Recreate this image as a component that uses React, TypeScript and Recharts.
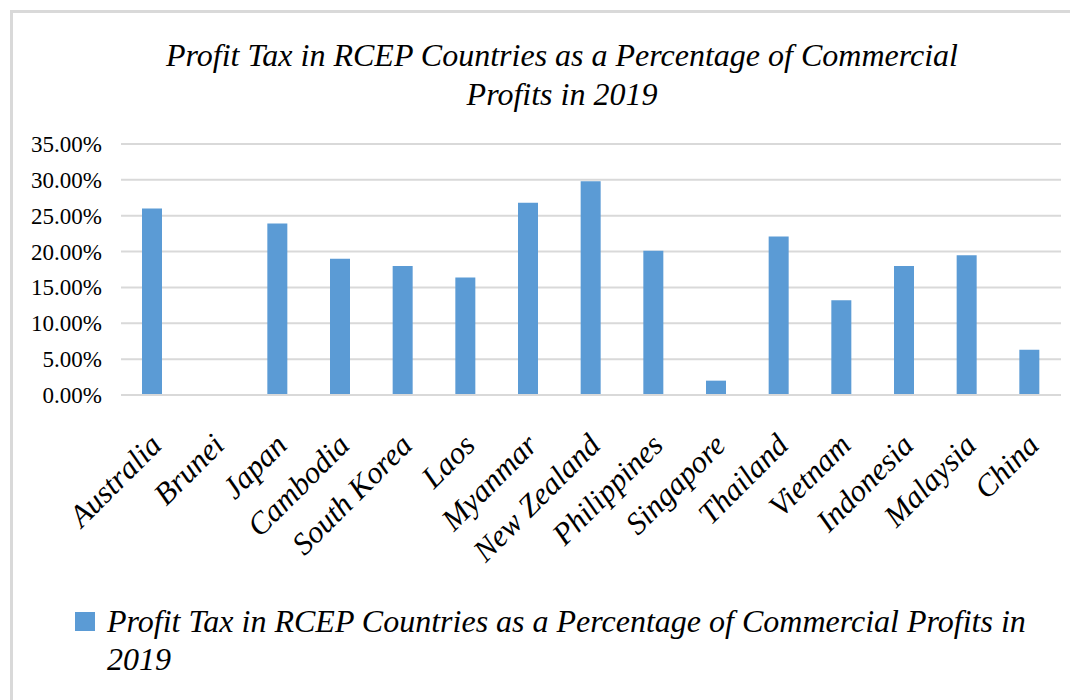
import React from "react";
import { BarChart, Bar, XAxis, YAxis, CartesianGrid } from "recharts";

const countries = [
  "Australia",
  "Brunei",
  "Japan",
  "Cambodia",
  "South Korea",
  "Laos",
  "Myanmar",
  "New Zealand",
  "Philippines",
  "Singapore",
  "Thailand",
  "Vietnam",
  "Indonesia",
  "Malaysia",
  "China",
];

// profit tax as % of commercial profits
const profitTax = [26.0, 0, 23.9, 19.0, 18.0, 16.4, 26.8, 29.8, 20.1, 2.0, 22.1, 13.2, 18.0, 19.5, 6.3];

const yTicks = [0, 5, 10, 15, 20, 25, 30, 35];

const seriesName = "Profit Tax in RCEP Countries as a Percentage of Commercial Profits in 2019";

const data = countries.map((name, i) => ({ name, value: profitTax[i] }));

const FONT = "Liberation Serif";
const BAR = "#5B9BD5";
const GRID = "#d9d9d9";

function CountryTick(props: any) {
  const { x, y, payload } = props;
  return (
    <g transform={`translate(${x + 11},${y + 52})`}>
      <text
        transform="rotate(-45)"
        textAnchor="end"
        style={{ fontFamily: FONT, fontStyle: "italic", fontSize: 31 }}
        fill="#000"
      >
        {payload.value}
      </text>
    </g>
  );
}

function PercentTick(props: any) {
  const { x, y, payload } = props;
  return (
    <text x={x - 19} y={y} dy={8} textAnchor="end" style={{ fontFamily: FONT, fontSize: 23 }} fill="#000">
      {Number(payload.value).toFixed(2) + "%"}
    </text>
  );
}

export default function App() {
  return (
    <div
      style={{
        marginLeft: 2,
        marginTop: 2,
        borderTop: `3px solid ${GRID}`,
        borderLeft: `3px solid ${GRID}`,
        width: 1065,
        height: 690,
        position: "relative",
        background: "#fff",
        fontFamily: FONT,
      }}
    >
      <div
        style={{
          position: "absolute",
          left: 49,
          top: 23,
          width: 1000,
          textAlign: "center",
          fontStyle: "italic",
          fontSize: 32,
          lineHeight: "39px",
          color: "#000",
        }}
      >
        Profit Tax in RCEP Countries as a Percentage of Commercial
        <br />
        Profits in 2019
      </div>

      <BarChart
        width={1065}
        height={562}
        data={data}
        margin={{ top: 131, right: 17, left: 0, bottom: 0 }}
      >
        <CartesianGrid vertical={false} stroke={GRID} strokeWidth={2} />
        <XAxis
          dataKey="name"
          interval={0}
          height={180}
          tickSize={0}
          tickMargin={0}
          tickLine={false}
          axisLine={{ stroke: GRID, strokeWidth: 2 }}
          tick={<CountryTick />}
        />
        <YAxis
          width={108}
          domain={[0, 35]}
          ticks={yTicks}
          tickSize={0}
          tickMargin={0}
          tickLine={false}
          axisLine={false}
          tick={<PercentTick />}
        />
        <Bar dataKey="value" name={seriesName} fill={BAR} barSize={20} isAnimationActive={false} />
      </BarChart>

      <div
        style={{
          position: "absolute",
          left: 62,
          top: 589,
          display: "flex",
          alignItems: "flex-start",
        }}
      >
        <div style={{ width: 20, height: 19, background: BAR, marginTop: 10, marginRight: 12 }} />
        <div style={{ fontStyle: "italic", fontSize: 32, lineHeight: "38px", color: "#000", width: 980 }}>
          Profit Tax in RCEP Countries as a Percentage of Commercial Profits in
          <br />
          2019
        </div>
      </div>
    </div>
  );
}
